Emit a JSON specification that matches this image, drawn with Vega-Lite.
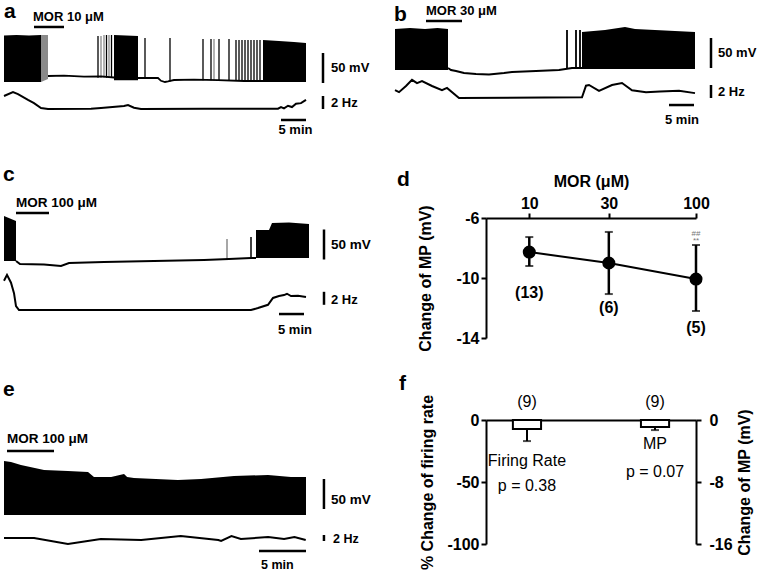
{
"$schema": "https://vega.github.io/schema/vega-lite/v6.json",
"padding": 0,
"background": "white",
"config": {
 "view": {"stroke": null},
 "font": "Liberation Sans",
 "axis": {"domainColor": "black", "domainWidth": 2, "tickColor": "black", "tickWidth": 2, "tickSize": 5, "labelFontSize": 16, "labelFontWeight": "bold", "labelColor": "black", "titleFontSize": 16, "titleFontWeight": "bold", "titleColor": "black", "grid": false, "labelFont": "Liberation Sans", "titleFont": "Liberation Sans"},
 "text": {"font": "Liberation Sans", "color": "black"},
 "title": {"font": "Liberation Sans", "color": "black"}
},
"datasets": {
 "a_blk": [{"blk":1,"shade":"k","t":0,"top":12.5,"bot":-65},{"blk":1,"shade":"k","t":2.5,"top":13.3,"bot":-65},{"blk":1,"shade":"k","t":5,"top":12.5,"bot":-65},{"blk":1,"shade":"k","t":7.4,"top":13.3,"bot":-65},{"blk":2,"shade":"g","t":7.4,"top":13.3,"bot":-65},{"blk":2,"shade":"g","t":8.8,"top":13.3,"bot":-60},{"blk":3,"shade":"k","t":22.0,"top":13.3,"bot":-62},{"blk":3,"shade":"k","t":26.8,"top":11.7,"bot":-62},{"blk":4,"shade":"k","t":51.8,"top":5,"bot":-64},{"blk":4,"shade":"k","t":55,"top":3.3,"bot":-64},{"blk":4,"shade":"k","t":58,"top":1.7,"bot":-64},{"blk":4,"shade":"k","t":60.4,"top":0,"bot":-64}],
 "a_spk": [{"t":18.8,"top":11.7,"bot":-58,"shade":"k"},{"t":19.4,"top":11.7,"bot":-58,"shade":"g"},{"t":20.0,"top":13.3,"bot":-58,"shade":"g"},{"t":20.5,"top":13.3,"bot":-58,"shade":"k"},{"t":21.0,"top":13.3,"bot":-58,"shade":"g"},{"t":21.5,"top":13.3,"bot":-58,"shade":"k"},{"t":28.2,"top":8.3,"bot":-58,"shade":"k"},{"t":33.2,"top":8.3,"bot":-64,"shade":"k"},{"t":39.8,"top":6.7,"bot":-62,"shade":"k"},{"t":41.4,"top":6.7,"bot":-62,"shade":"k"},{"t":42.0,"top":6.7,"bot":-62,"shade":"g"},{"t":43.0,"top":6.7,"bot":-62,"shade":"k"},{"t":45.0,"top":6.7,"bot":-63,"shade":"k"},{"t":46.4,"top":5,"bot":-63,"shade":"k"},{"t":47.0,"top":5,"bot":-63,"shade":"k"},{"t":47.6,"top":5,"bot":-63,"shade":"k"},{"t":48.2,"top":5,"bot":-63,"shade":"k"},{"t":48.8,"top":5,"bot":-63,"shade":"k"},{"t":49.4,"top":5,"bot":-63,"shade":"k"},{"t":50.0,"top":5,"bot":-63,"shade":"k"},{"t":50.6,"top":5,"bot":-63,"shade":"k"},{"t":51.2,"top":5,"bot":-63,"shade":"k"}],
 "a_base": [{"t":8.8,"v":-55},{"t":12,"v":-54.5},{"t":16,"v":-56},{"t":19.4,"v":-55.5},{"t":22,"v":-57.5},{"t":26,"v":-58.3},{"t":30.8,"v":-58.3},{"t":31.4,"v":-63},{"t":32.2,"v":-65},{"t":32.8,"v":-64},{"t":34,"v":-61.7},{"t":38,"v":-61},{"t":42.8,"v":-62},{"t":48,"v":-63.3},{"t":52,"v":-63.3},{"t":60.4,"v":-63.3}],
 "a_vbar": [{"t1":6.0,"t2":12.0,"v1":26.7,"v2":26.7},{"t1":63.8,"t2":63.8,"v1":-66.7,"v2":-16.7}],
 "a_vtxt": [{"t":5.8,"v":43.3,"label":"MOR 10 μM"},{"t":65.4,"v":-41.7,"label":"50 mV"}],
 "a_freq": [{"t":0,"f":2.0},{"t":1.8,"f":2.6},{"t":2.8,"f":2.3},{"t":4.8,"f":1.4},{"t":6,"f":0.9},{"t":7.4,"f":0.15},{"t":8.8,"f":0},{"t":17.4,"f":0.05},{"t":19.4,"f":0.15},{"t":24,"f":0.45},{"t":24.8,"f":0.6},{"t":26,"f":0.2},{"t":27.4,"f":0},{"t":40,"f":0.05},{"t":54.8,"f":0.05},{"t":55.4,"f":0.3},{"t":56,"f":0.1},{"t":56.8,"f":0.5},{"t":57.6,"f":0.3},{"t":58.4,"f":0.8},{"t":59.4,"f":0.9},{"t":60.4,"f":1.4}],
 "a_fbar": [{"t1":63.8,"t2":63.8,"f1":0,"f2":2},{"t1":55.4,"t2":60.4,"f1":-1.69,"f2":-1.69}],
 "a_ftxt": [{"t":65.4,"f":1.0,"label":"2 Hz"},{"t":54.9,"f":-3.2,"label":"5 min"}],
 "b_blk": [{"blk":1,"shade":"k","t":0,"top":1.7,"bot":-66.7},{"blk":1,"shade":"k","t":3,"top":3.3,"bot":-66.7},{"blk":1,"shade":"k","t":6,"top":1.7,"bot":-66.7},{"blk":1,"shade":"k","t":8.5,"top":3.3,"bot":-66.7},{"blk":1,"shade":"k","t":10.6,"top":1.7,"bot":-66.7},{"blk":2,"shade":"k","t":37.4,"top":-3.3,"bot":-65},{"blk":2,"shade":"k","t":42,"top":0,"bot":-65},{"blk":2,"shade":"k","t":46,"top":5,"bot":-65},{"blk":2,"shade":"k","t":48,"top":1.7,"bot":-65},{"blk":2,"shade":"k","t":52,"top":0,"bot":-65},{"blk":2,"shade":"k","t":56,"top":-1.7,"bot":-65},{"blk":2,"shade":"k","t":60,"top":-3.3,"bot":-65}],
 "b_spk": [{"t":34.4,"top":0,"bot":-63.3,"shade":"k"},{"t":36.2,"top":0,"bot":-63.3,"shade":"k"},{"t":37.0,"top":0,"bot":-63.3,"shade":"k"}],
 "b_base": [{"t":10.6,"v":-63.3},{"t":11.2,"v":-66.7},{"t":12.2,"v":-68.3},{"t":13.8,"v":-71.7},{"t":16.2,"v":-73.3},{"t":18.8,"v":-74.2},{"t":21.8,"v":-71.7},{"t":23.4,"v":-70},{"t":28.2,"v":-68.3},{"t":32.8,"v":-66.7},{"t":35.4,"v":-63.3},{"t":37.4,"v":-63.3}],
 "b_vbar": [{"t1":6.2,"t2":13.4,"v1":15,"v2":15},{"t1":63.2,"t2":63.2,"v1":-63.3,"v2":-13.3}],
 "b_vtxt": [{"t":6.2,"v":31.7,"label":"MOR 30 μM"},{"t":64.6,"v":-38.3,"label":"50 mV"}],
 "b_freq": [{"t":0,"f":1.2},{"t":0.8,"f":0.9},{"t":2.2,"f":1.85},{"t":3.4,"f":2.8},{"t":4.4,"f":2.3},{"t":5.4,"f":2.6},{"t":7.4,"f":1.85},{"t":9.4,"f":1.2},{"t":10.4,"f":1.55},{"t":12.8,"f":0},{"t":37.4,"f":0.1},{"t":38.2,"f":1.9},{"t":38.8,"f":2.0},{"t":40.8,"f":1.1},{"t":43.4,"f":2.0},{"t":45.4,"f":2.3},{"t":47.4,"f":1.2},{"t":50.2,"f":0.9},{"t":53,"f":1.0},{"t":56.8,"f":1.1},{"t":60,"f":0.75}],
 "b_fbar": [{"t1":63.2,"t2":63.2,"f1":0,"f2":2},{"t1":54.8,"t2":59.8,"f1":-1.08,"f2":-1.08}],
 "b_ftxt": [{"t":64.6,"f":1.0,"label":"2 Hz"},{"t":54.0,"f":-3.4,"label":"5 min"}],
 "c_blk": [{"blk":1,"shade":"k","t":0,"top":10,"bot":-65},{"blk":1,"shade":"k","t":2.4,"top":1.7,"bot":-65},{"blk":2,"shade":"k","t":50.4,"top":-13.3,"bot":-60},{"blk":2,"shade":"k","t":53,"top":-13.3,"bot":-60},{"blk":2,"shade":"k","t":53.6,"top":-1.7,"bot":-60},{"blk":2,"shade":"k","t":57,"top":-0.8,"bot":-60},{"blk":2,"shade":"k","t":61,"top":-3.3,"bot":-60}],
 "c_spk": [{"t":44.6,"top":-28.3,"bot":-61.7,"shade":"g"},{"t":49.4,"top":-25,"bot":-60,"shade":"k"}],
 "c_base": [{"t":2.4,"v":-65},{"t":3.2,"v":-70},{"t":8,"v":-70.8},{"t":11.4,"v":-73.3},{"t":13,"v":-68.3},{"t":20,"v":-66.7},{"t":30,"v":-65},{"t":40,"v":-63.3},{"t":45,"v":-61.7},{"t":49.4,"v":-60},{"t":50.4,"v":-60}],
 "c_vbar": [{"t1":2.4,"t2":9.0,"v1":15,"v2":15},{"t1":64,"t2":64,"v1":-62.5,"v2":-12.5}],
 "c_vtxt": [{"t":2.4,"v":31.7,"label":"MOR 100 μM"},{"t":65.4,"v":-38.3,"label":"50 mV"}],
 "c_freq": [{"t":0,"f":4.5},{"t":0.6,"f":5.4},{"t":1.4,"f":4.2},{"t":2.0,"f":2.6},{"t":2.4,"f":0.6},{"t":3,"f":0},{"t":49.4,"f":0},{"t":50.8,"f":0.3},{"t":52.8,"f":0.8},{"t":53.8,"f":1.85},{"t":55,"f":2.15},{"t":56,"f":2.3},{"t":56.6,"f":2.5},{"t":57.4,"f":2.15},{"t":58.8,"f":2.2},{"t":60.4,"f":2.0}],
 "c_fbar": [{"t1":64,"t2":64,"f1":0.8,"f2":2.8},{"t1":55.0,"t2":60.0,"f1":-0.62,"f2":-0.62}],
 "c_ftxt": [{"t":65.4,"f":1.54,"label":"2 Hz"},{"t":54.8,"f":-3.08,"label":"5 min"}],
 "e_blk": [{"blk":1,"shade":"k","t":0,"top":25,"bot":-65},{"blk":1,"shade":"k","t":0.74,"top":23.3,"bot":-65},{"blk":1,"shade":"k","t":1.8,"top":18.3,"bot":-65},{"blk":1,"shade":"k","t":4.26,"top":10,"bot":-65},{"blk":1,"shade":"k","t":6.8,"top":8.3,"bot":-65},{"blk":1,"shade":"k","t":8.94,"top":6.7,"bot":-65},{"blk":1,"shade":"k","t":9.57,"top":-1.7,"bot":-65},{"blk":1,"shade":"k","t":11.4,"top":-1.7,"bot":-65},{"blk":1,"shade":"k","t":12.77,"top":3.3,"bot":-65},{"blk":1,"shade":"k","t":13.1,"top":-1.7,"bot":-65},{"blk":1,"shade":"k","t":13.83,"top":-3.3,"bot":-65},{"blk":1,"shade":"k","t":18.5,"top":-6.7,"bot":-65},{"blk":1,"shade":"k","t":20.96,"top":-5,"bot":-65},{"blk":1,"shade":"k","t":24.47,"top":0,"bot":-65},{"blk":1,"shade":"k","t":28.09,"top":1.7,"bot":-65},{"blk":1,"shade":"k","t":30.53,"top":-1.7,"bot":-65},{"blk":1,"shade":"k","t":32.13,"top":-1.7,"bot":-65}],
 "e_vbar": [{"t1":0.32,"t2":5.32,"v1":41.7,"v2":41.7},{"t1":34.04,"t2":34.04,"v1":-55,"v2":-5}],
 "e_vtxt": [{"t":0.32,"v":61.7,"label":"MOR 100 μM"},{"t":34.8,"v":-40,"label":"50 mV"}],
 "e_freq": [{"t":0,"f":3.33},{"t":3.2,"f":3.33},{"t":6.8,"f":1.33},{"t":10.3,"f":3.0},{"t":14.6,"f":2.67},{"t":18.8,"f":4.0},{"t":22.8,"f":2.67},{"t":23.1,"f":2.33},{"t":24.2,"f":4.0},{"t":25.2,"f":3.0},{"t":28.1,"f":3.67},{"t":29.8,"f":3.0},{"t":30.9,"f":3.67},{"t":32.1,"f":2.67}],
 "e_fbar": [{"t1":34.04,"t2":34.04,"f1":2.33,"f2":4.33},{"t1":27.13,"t2":32.13,"f1":-1,"f2":-1}],
 "e_ftxt": [{"t":35.0,"f":3.0,"label":"2 Hz"},{"t":27.34,"f":-5.67,"label":"5 min"}],
 "d_mp": [{"conc":10,"mean":-8.27,"lo":-9.2,"hi":-7.27,"n":"(13)","ny":-11.0},{"conc":30,"mean":-9.0,"lo":-11.07,"hi":-6.93,"n":"(6)","ny":-12.0},{"conc":100,"mean":-10.07,"lo":-12.2,"hi":-7.8,"n":"(5)","ny":-13.33}],
 "d_sig": [{"conc":100,"y":-7.05,"s":"##"},{"conc":100,"y":-7.55,"s":"**"}],
 "f_fr": [{"measure":"Firing Rate","value":-7.3,"err":-17}],
 "f_mp": [{"measure":"MP","value":-0.9,"err":-1.3}],
 "f_txt": [{"measure":"Firing Rate","y":14.5,"label":"(9)"},{"measure":"MP","y":14.5,"label":"(9)"},{"measure":"Firing Rate","y":-33,"label":"Firing Rate"},{"measure":"Firing Rate","y":-53,"label":"p = 0.38"},{"measure":"MP","y":-19.4,"label":"MP"},{"measure":"MP","y":-42,"label":"p = 0.07"}]
},
"spacing": 10,
"hconcat": [
 {"spacing": 0, "vconcat": [
  {"width": 380, "height": 140,
   "encoding": {"x": {"field": "t", "type": "quantitative", "scale": {"domain": [-0.6, 75.4], "nice": false, "zero": false}, "axis": null}},
   "resolve": {"scale": {"y": "independent"}},
   "layer": [
    {"layer": [
     {"data": {"name": "a_blk"}, "mark": {"type": "area"}, "encoding": {"y": {"field": "top", "type": "quantitative", "scale": {"domain": [-166.67, 66.67], "nice": false, "zero": false}, "axis": null}, "y2": {"field": "bot"}, "detail": {"field": "blk", "type": "nominal"}, "color": {"field": "shade", "type": "nominal", "scale": {"domain": ["k", "g"], "range": ["black", "#8a8a8a"]}, "legend": null}}},
     {"data": {"name": "a_spk"}, "mark": {"type": "rule", "strokeWidth": 1.3}, "encoding": {"y": {"field": "top", "type": "quantitative", "scale": {"domain": [-166.67, 66.67], "nice": false, "zero": false}, "axis": null}, "y2": {"field": "bot"}, "color": {"field": "shade", "type": "nominal", "scale": {"domain": ["k", "g"], "range": ["black", "#8a8a8a"]}, "legend": null}}},
     {"data": {"name": "a_base"}, "mark": {"type": "line", "color": "black", "strokeWidth": 1.8}, "encoding": {"y": {"field": "v", "type": "quantitative", "scale": {"domain": [-166.67, 66.67], "nice": false, "zero": false}, "axis": null}}},
     {"data": {"name": "a_vbar"}, "mark": {"type": "rule", "color": "black", "strokeWidth": 2.5}, "encoding": {"x": {"field": "t1", "type": "quantitative", "scale": {"domain": [-0.6, 75.4], "nice": false, "zero": false}, "axis": null}, "x2": {"field": "t2"}, "y": {"field": "v1", "type": "quantitative", "scale": {"domain": [-166.67, 66.67], "nice": false, "zero": false}, "axis": null}, "y2": {"field": "v2"}}},
     {"data": {"values": [{"t": 0, "v": 52.5, "label": "a"}]}, "mark": {"type": "text", "fontSize": 21, "fontWeight": "bold", "align": "left", "baseline": "middle"}, "encoding": {"y": {"field": "v", "type": "quantitative", "scale": {"domain": [-166.67, 66.67], "nice": false, "zero": false}, "axis": null}, "text": {"field": "label"}}},
     {"data": {"name": "a_vtxt"}, "mark": {"type": "text", "fontSize": 13, "fontWeight": "bold", "align": "left", "baseline": "middle"}, "encoding": {"y": {"field": "v", "type": "quantitative", "scale": {"domain": [-166.67, 66.67], "nice": false, "zero": false}, "axis": null}, "text": {"field": "label"}}}
    ]},
    {"layer": [
     {"data": {"name": "a_freq"}, "mark": {"type": "line", "color": "black", "strokeWidth": 2}, "encoding": {"y": {"field": "f", "type": "quantitative", "scale": {"domain": [-5.23, 16.31], "nice": false, "zero": false}, "axis": null}}},
     {"data": {"name": "a_fbar"}, "mark": {"type": "rule", "color": "black", "strokeWidth": 2.5}, "encoding": {"x": {"field": "t1", "type": "quantitative", "scale": {"domain": [-0.6, 75.4], "nice": false, "zero": false}, "axis": null}, "x2": {"field": "t2"}, "y": {"field": "f1", "type": "quantitative", "scale": {"domain": [-5.23, 16.31], "nice": false, "zero": false}, "axis": null}, "y2": {"field": "f2"}}},
     {"data": {"name": "a_ftxt"}, "mark": {"type": "text", "fontSize": 13, "fontWeight": "bold", "align": "left", "baseline": "middle"}, "encoding": {"y": {"field": "f", "type": "quantitative", "scale": {"domain": [-5.23, 16.31], "nice": false, "zero": false}, "axis": null}, "text": {"field": "label"}}}
    ]}
   ]},
  {"width": 380, "height": 235,
   "encoding": {"x": {"field": "t", "type": "quantitative", "scale": {"domain": [-0.6, 75.4], "nice": false, "zero": false}, "axis": null}},
   "resolve": {"scale": {"y": "independent"}},
   "layer": [
    {"layer": [
     {"data": {"name": "c_blk"}, "mark": {"type": "area"}, "encoding": {"y": {"field": "top", "type": "quantitative", "scale": {"domain": [-260, 131.67], "nice": false, "zero": false}, "axis": null}, "y2": {"field": "bot"}, "detail": {"field": "blk", "type": "nominal"}, "color": {"field": "shade", "type": "nominal", "scale": {"domain": ["k", "g"], "range": ["black", "#8a8a8a"]}, "legend": null}}},
     {"data": {"name": "c_spk"}, "mark": {"type": "rule", "strokeWidth": 1.5}, "encoding": {"y": {"field": "top", "type": "quantitative", "scale": {"domain": [-260, 131.67], "nice": false, "zero": false}, "axis": null}, "y2": {"field": "bot"}, "color": {"field": "shade", "type": "nominal", "scale": {"domain": ["k", "g"], "range": ["#555555", "#8a8a8a"]}, "legend": null}}},
     {"data": {"name": "c_base"}, "mark": {"type": "line", "color": "black", "strokeWidth": 2}, "encoding": {"y": {"field": "v", "type": "quantitative", "scale": {"domain": [-260, 131.67], "nice": false, "zero": false}, "axis": null}}},
     {"data": {"name": "c_vbar"}, "mark": {"type": "rule", "color": "black", "strokeWidth": 2.5}, "encoding": {"x": {"field": "t1", "type": "quantitative", "scale": {"domain": [-0.6, 75.4], "nice": false, "zero": false}, "axis": null}, "x2": {"field": "t2"}, "y": {"field": "v1", "type": "quantitative", "scale": {"domain": [-260, 131.67], "nice": false, "zero": false}, "axis": null}, "y2": {"field": "v2"}}},
     {"data": {"values": [{"t": -0.2, "v": 78.3, "label": "c"}]}, "mark": {"type": "text", "fontSize": 21, "fontWeight": "bold", "align": "left", "baseline": "middle"}, "encoding": {"y": {"field": "v", "type": "quantitative", "scale": {"domain": [-260, 131.67], "nice": false, "zero": false}, "axis": null}, "text": {"field": "label"}}},
     {"data": {"name": "c_vtxt"}, "mark": {"type": "text", "fontSize": 13.5, "fontWeight": "bold", "align": "left", "baseline": "middle"}, "encoding": {"y": {"field": "v", "type": "quantitative", "scale": {"domain": [-260, 131.67], "nice": false, "zero": false}, "axis": null}, "text": {"field": "label"}}}
    ]},
    {"layer": [
     {"data": {"name": "c_freq"}, "mark": {"type": "line", "color": "black", "strokeWidth": 2}, "encoding": {"y": {"field": "f", "type": "quantitative", "scale": {"domain": [-10.46, 25.69], "nice": false, "zero": false}, "axis": null}}},
     {"data": {"name": "c_fbar"}, "mark": {"type": "rule", "color": "black", "strokeWidth": 2.5}, "encoding": {"x": {"field": "t1", "type": "quantitative", "scale": {"domain": [-0.6, 75.4], "nice": false, "zero": false}, "axis": null}, "x2": {"field": "t2"}, "y": {"field": "f1", "type": "quantitative", "scale": {"domain": [-10.46, 25.69], "nice": false, "zero": false}, "axis": null}, "y2": {"field": "f2"}}},
     {"data": {"name": "c_ftxt"}, "mark": {"type": "text", "fontSize": 13, "fontWeight": "bold", "align": "left", "baseline": "middle"}, "encoding": {"y": {"field": "f", "type": "quantitative", "scale": {"domain": [-10.46, 25.69], "nice": false, "zero": false}, "axis": null}, "text": {"field": "label"}}}
    ]}
   ]},
  {"width": 380, "height": 198,
   "encoding": {"x": {"field": "t", "type": "quantitative", "scale": {"domain": [-0.32, 40.11], "nice": false, "zero": false}, "axis": null}},
   "resolve": {"scale": {"y": "independent"}},
   "layer": [
    {"layer": [
     {"data": {"name": "e_blk"}, "mark": {"type": "area", "color": "black"}, "encoding": {"y": {"field": "top", "type": "quantitative", "scale": {"domain": [-166.67, 163.33], "nice": false, "zero": false}, "axis": null}, "y2": {"field": "bot"}, "detail": {"field": "blk", "type": "nominal"}}},
     {"data": {"name": "e_vbar"}, "mark": {"type": "rule", "color": "black", "strokeWidth": 2.5}, "encoding": {"x": {"field": "t1", "type": "quantitative", "scale": {"domain": [-0.32, 40.11], "nice": false, "zero": false}, "axis": null}, "x2": {"field": "t2"}, "y": {"field": "v1", "type": "quantitative", "scale": {"domain": [-166.67, 163.33], "nice": false, "zero": false}, "axis": null}, "y2": {"field": "v2"}}},
     {"data": {"values": [{"t": -0.1, "v": 143.3, "label": "e"}]}, "mark": {"type": "text", "fontSize": 21, "fontWeight": "bold", "align": "left", "baseline": "middle"}, "encoding": {"y": {"field": "v", "type": "quantitative", "scale": {"domain": [-166.67, 163.33], "nice": false, "zero": false}, "axis": null}, "text": {"field": "label"}}},
     {"data": {"name": "e_vtxt"}, "mark": {"type": "text", "fontSize": 13.5, "fontWeight": "bold", "align": "left", "baseline": "middle"}, "encoding": {"y": {"field": "v", "type": "quantitative", "scale": {"domain": [-166.67, 163.33], "nice": false, "zero": false}, "axis": null}, "text": {"field": "label"}}}
    ]},
    {"layer": [
     {"data": {"name": "e_freq"}, "mark": {"type": "line", "color": "black", "strokeWidth": 2}, "encoding": {"y": {"field": "f", "type": "quantitative", "scale": {"domain": [-9.33, 56.67], "nice": false, "zero": false}, "axis": null}}},
     {"data": {"name": "e_fbar"}, "mark": {"type": "rule", "color": "black", "strokeWidth": 2.5}, "encoding": {"x": {"field": "t1", "type": "quantitative", "scale": {"domain": [-0.32, 40.11], "nice": false, "zero": false}, "axis": null}, "x2": {"field": "t2"}, "y": {"field": "f1", "type": "quantitative", "scale": {"domain": [-9.33, 56.67], "nice": false, "zero": false}, "axis": null}, "y2": {"field": "f2"}}},
     {"data": {"name": "e_ftxt"}, "mark": {"type": "text", "fontSize": 12.5, "fontWeight": "bold", "align": "left", "baseline": "middle"}, "encoding": {"y": {"field": "f", "type": "quantitative", "scale": {"domain": [-9.33, 56.67], "nice": false, "zero": false}, "axis": null}, "text": {"field": "label"}}}
    ]}
   ]}
 ]},
 {"spacing": 21, "vconcat": [
  {"width": 274, "height": 145,
   "encoding": {"x": {"field": "t", "type": "quantitative", "scale": {"domain": [18.2, 73], "nice": false, "zero": false}, "axis": null}},
   "resolve": {"scale": {"y": "independent"}},
   "layer": [
    {"layer": [
     {"data": {"name": "b_blk"}, "mark": {"type": "area"}, "encoding": {"y": {"field": "top", "type": "quantitative", "scale": {"domain": [-196.67, 45], "nice": false, "zero": false}, "axis": null}, "y2": {"field": "bot"}, "detail": {"field": "blk", "type": "nominal"}, "color": {"field": "shade", "type": "nominal", "scale": {"domain": ["k", "g"], "range": ["black", "#8a8a8a"]}, "legend": null}}},
     {"data": {"name": "b_spk"}, "mark": {"type": "rule", "strokeWidth": 1.8}, "encoding": {"y": {"field": "top", "type": "quantitative", "scale": {"domain": [-196.67, 45], "nice": false, "zero": false}, "axis": null}, "y2": {"field": "bot"}, "color": {"field": "shade", "type": "nominal", "scale": {"domain": ["k", "g"], "range": ["black", "#8a8a8a"]}, "legend": null}}},
     {"data": {"name": "b_base"}, "mark": {"type": "line", "color": "black", "strokeWidth": 2}, "encoding": {"y": {"field": "v", "type": "quantitative", "scale": {"domain": [-196.67, 45], "nice": false, "zero": false}, "axis": null}}},
     {"data": {"name": "b_vbar"}, "mark": {"type": "rule", "color": "black", "strokeWidth": 2.5}, "encoding": {"x": {"field": "t1", "type": "quantitative", "scale": {"domain": [18.2, 73], "nice": false, "zero": false}, "axis": null}, "x2": {"field": "t2"}, "y": {"field": "v1", "type": "quantitative", "scale": {"domain": [-196.67, 45], "nice": false, "zero": false}, "axis": null}, "y2": {"field": "v2"}}},
     {"data": {"values": [{"t": -0.2, "v": 25, "label": "b"}]}, "mark": {"type": "text", "fontSize": 21, "fontWeight": "bold", "align": "left", "baseline": "middle"}, "encoding": {"y": {"field": "v", "type": "quantitative", "scale": {"domain": [-196.67, 45], "nice": false, "zero": false}, "axis": null}, "text": {"field": "label"}}},
     {"data": {"name": "b_vtxt"}, "mark": {"type": "text", "fontSize": 13, "fontWeight": "bold", "align": "left", "baseline": "middle"}, "encoding": {"y": {"field": "v", "type": "quantitative", "scale": {"domain": [-196.67, 45], "nice": false, "zero": false}, "axis": null}, "text": {"field": "label"}}}
    ]},
    {"layer": [
     {"data": {"name": "b_freq"}, "mark": {"type": "line", "color": "black", "strokeWidth": 2}, "encoding": {"y": {"field": "f", "type": "quantitative", "scale": {"domain": [-7.69, 14.615], "nice": false, "zero": false}, "axis": null}}},
     {"data": {"name": "b_fbar"}, "mark": {"type": "rule", "color": "black", "strokeWidth": 2.5}, "encoding": {"x": {"field": "t1", "type": "quantitative", "scale": {"domain": [18.2, 73], "nice": false, "zero": false}, "axis": null}, "x2": {"field": "t2"}, "y": {"field": "f1", "type": "quantitative", "scale": {"domain": [-7.69, 14.615], "nice": false, "zero": false}, "axis": null}, "y2": {"field": "f2"}}},
     {"data": {"name": "b_ftxt"}, "mark": {"type": "text", "fontSize": 13, "fontWeight": "bold", "align": "left", "baseline": "middle"}, "encoding": {"y": {"field": "f", "type": "quantitative", "scale": {"domain": [-7.69, 14.615], "nice": false, "zero": false}, "axis": null}, "text": {"field": "label"}}}
    ]}
   ]},
  {"width": 210, "height": 120,
   "title": {"text": "d", "anchor": "start", "frame": "bounds", "fontSize": 21, "fontWeight": "bold", "dx": -21, "dy": 17, "offset": 0},
   "data": {"name": "d_mp"},
   "encoding": {
    "x": {"field": "conc", "type": "quantitative", "scale": {"type": "log", "domain": [5.5, 100], "nice": false, "padding": 0}, "axis": {"orient": "top", "values": [10, 30, 100], "format": "d", "title": "MOR (μM)", "titlePadding": 6, "labelPadding": 2, "labelFlush": false}},
    "y": {"field": "mean", "type": "quantitative", "scale": {"domain": [-14, -6], "nice": false, "zero": false, "padding": 0}, "axis": {"values": [-6, -10, -14], "title": "Change of MP (mV)", "titlePadding": 22, "labelPadding": 2, "labelFlush": false, "labelExpr": "replace(datum.label, '−', '-')"}}
   },
   "layer": [
    {"mark": {"type": "line", "color": "black", "strokeWidth": 2}},
    {"mark": {"type": "rule", "color": "black", "strokeWidth": 2.5}, "encoding": {"y": {"field": "lo", "type": "quantitative", "title": "Change of MP (mV)", "scale": {"domain": [-14, -6], "nice": false, "zero": false, "padding": 0}}, "y2": {"field": "hi"}}},
    {"mark": {"type": "tick", "orient": "horizontal", "color": "black", "size": 8, "thickness": 2}, "encoding": {"y": {"field": "lo", "type": "quantitative", "title": "Change of MP (mV)", "scale": {"domain": [-14, -6], "nice": false, "zero": false, "padding": 0}}}},
    {"mark": {"type": "tick", "orient": "horizontal", "color": "black", "size": 8, "thickness": 2}, "encoding": {"y": {"field": "hi", "type": "quantitative", "title": "Change of MP (mV)", "scale": {"domain": [-14, -6], "nice": false, "zero": false, "padding": 0}}}},
    {"mark": {"type": "circle", "color": "black", "size": 170, "opacity": 1}},
    {"mark": {"type": "text", "fontSize": 16, "fontWeight": "bold", "baseline": "middle"}, "encoding": {"y": {"field": "ny", "type": "quantitative", "title": "Change of MP (mV)", "scale": {"domain": [-14, -6], "nice": false, "zero": false, "padding": 0}}, "text": {"field": "n"}}},
    {"data": {"name": "d_sig"}, "mark": {"type": "text", "fontSize": 8, "color": "#777777", "baseline": "middle"}, "encoding": {"y": {"field": "y", "type": "quantitative", "title": "Change of MP (mV)", "scale": {"domain": [-14, -6], "nice": false, "zero": false, "padding": 0}}, "text": {"field": "s"}}}
   ]},
  {"width": 210, "height": 124,
   "title": {"text": "f", "anchor": "start", "frame": "bounds", "fontSize": 21, "fontWeight": "bold", "dx": -21, "offset": 0},
   "encoding": {"x": {"field": "measure", "type": "nominal", "scale": {"type": "band", "domain": ["Firing Rate", "MP"], "paddingInner": 0.78, "paddingOuter": 0.21}, "axis": {"orient": "top", "labels": false, "ticks": false, "title": null, "domain": true}}},
   "resolve": {"scale": {"y": "independent"}},
   "layer": [
    {"encoding": {"y": {"field": "value", "type": "quantitative", "title": "% Change of firing rate", "scale": {"domain": [-100, 0], "nice": false}, "axis": {"orient": "left", "values": [0, -50, -100], "titlePadding": 11, "labelPadding": 2, "labelFlush": false, "labelExpr": "replace(datum.label, '−', '-')"}}},
     "layer": [
      {"data": {"name": "f_fr"}, "mark": {"type": "rule", "color": "black", "strokeWidth": 2}, "encoding": {"y2": {"field": "err"}}},
      {"data": {"name": "f_fr"}, "mark": {"type": "tick", "orient": "horizontal", "color": "black", "size": 8, "thickness": 2}, "encoding": {"y": {"field": "err", "type": "quantitative", "title": "% Change of firing rate", "scale": {"domain": [-100, 0], "nice": false}}}},
      {"data": {"name": "f_fr"}, "mark": {"type": "bar", "fill": "white", "stroke": "black", "strokeWidth": 2}},
      {"data": {"name": "f_txt"}, "mark": {"type": "text", "fontSize": 16, "baseline": "middle"}, "encoding": {"y": {"field": "y", "type": "quantitative", "title": "% Change of firing rate", "scale": {"domain": [-100, 0], "nice": false}}, "text": {"field": "label"}}}
     ]},
    {"encoding": {"y": {"field": "value", "type": "quantitative", "title": "Change of MP (mV)", "scale": {"domain": [-16, 0], "nice": false}, "axis": {"orient": "right", "values": [0, -8, -16], "titleAngle": 270, "titleBaseline": "top", "titlePadding": 4, "labelPadding": 8, "labelFlush": false, "labelExpr": "replace(datum.label, '−', '-')"}}},
     "layer": [
      {"data": {"name": "f_mp"}, "mark": {"type": "rule", "color": "black", "strokeWidth": 2}, "encoding": {"y2": {"field": "err"}}},
      {"data": {"name": "f_mp"}, "mark": {"type": "tick", "orient": "horizontal", "color": "black", "size": 8, "thickness": 2}, "encoding": {"y": {"field": "err", "type": "quantitative", "title": "Change of MP (mV)", "scale": {"domain": [-16, 0], "nice": false}}}},
      {"data": {"name": "f_mp"}, "mark": {"type": "bar", "fill": "white", "stroke": "black", "strokeWidth": 2}}
     ]}
   ]}
 ]}
]
}
